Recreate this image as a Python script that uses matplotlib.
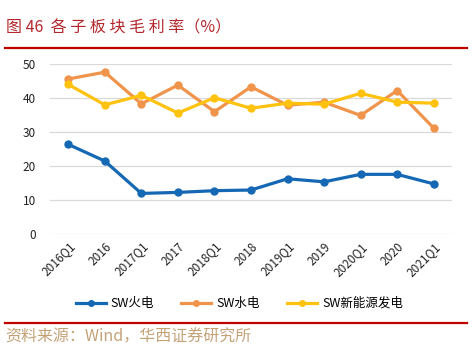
import numpy as np
import matplotlib.pyplot as plt
from matplotlib.lines import Line2D

plt.rcParams['font.family'] = ['Noto Sans CJK SC', 'DejaVu Sans']

# 数据
periods = ["2016Q1", "2016", "2017Q1", "2017", "2018Q1", "2018",
           "2019Q1", "2019", "2020Q1", "2020", "2021Q1"]
huodian = [26.4, 21.5, 12.0, 12.3, 12.8, 13.0, 16.3, 15.4, 17.6, 17.6, 14.8]
shuidian = [45.6, 47.6, 38.3, 43.8, 36.0, 43.3, 37.9, 38.8, 34.9, 42.2, 31.2]
xinnengyuan = [44.0, 38.0, 40.8, 35.6, 40.1, 37.0, 38.5, 38.2, 41.4, 38.8, 38.5]
series_names = ["SW火电", "SW水电", "SW新能源发电"]
colors = ["#1468B4", "#F0944B", "#FFC20E"]

fig = plt.figure(figsize=(4.74, 3.52), dpi=100)
ax = fig.add_axes([0.1055, 0.3344, 0.848, 0.4838])

x = np.arange(len(periods))
for ys, c, name in zip([huodian, shuidian, xinnengyuan], colors, series_names):
    ax.plot(x, ys, color=c, lw=2.3, marker="o", ms=5, label=name, zorder=3)

ax.set_xlim(-0.5, len(periods) - 0.5)
ax.set_ylim(0, 50)
ax.set_yticks(np.arange(0, 51, 10))
ax.yaxis.grid(True, color="#D9D9D9", lw=0.9)
ax.set_axisbelow(True)
for s in ax.spines.values():
    s.set_visible(False)
ax.tick_params(axis="both", length=0, labelsize=8.5, colors="#222222")
ax.tick_params(axis="y", pad=10)
ax.set_xticks(x)
ax.set_xticklabels(periods, rotation=45, ha="right", va="top",
                   rotation_mode="anchor")
ax.tick_params(axis="x", pad=4)

# 图例
handles = [Line2D([0], [0], color=c, lw=2.3, marker="o", ms=4) for c in colors]
fig.legend(handles, series_names, loc="center", bbox_to_anchor=(0.505, 0.138),
           ncol=3, frameon=False, fontsize=9, handlelength=2.4,
           columnspacing=2.2, handletextpad=0.4)

# 标题与来源
fig.text(0.012, 0.92, "图 46  各 子 板 块 毛 利 率（%）", fontsize=11.5, color="#B3282D",
         va="center", ha="left")
fig.add_artist(Line2D([0.01, 0.985], [0.864, 0.864], color="#C00000", lw=1.6))
fig.add_artist(Line2D([0.01, 0.985], [0.083, 0.083], color="#C00000", lw=1.6))
fig.text(0.012, 0.043, "资料来源：Wind，华西证券研究所", fontsize=11.5,
         color="#C4A278", va="center", ha="left")

fig.savefig("out.png", dpi=100)
